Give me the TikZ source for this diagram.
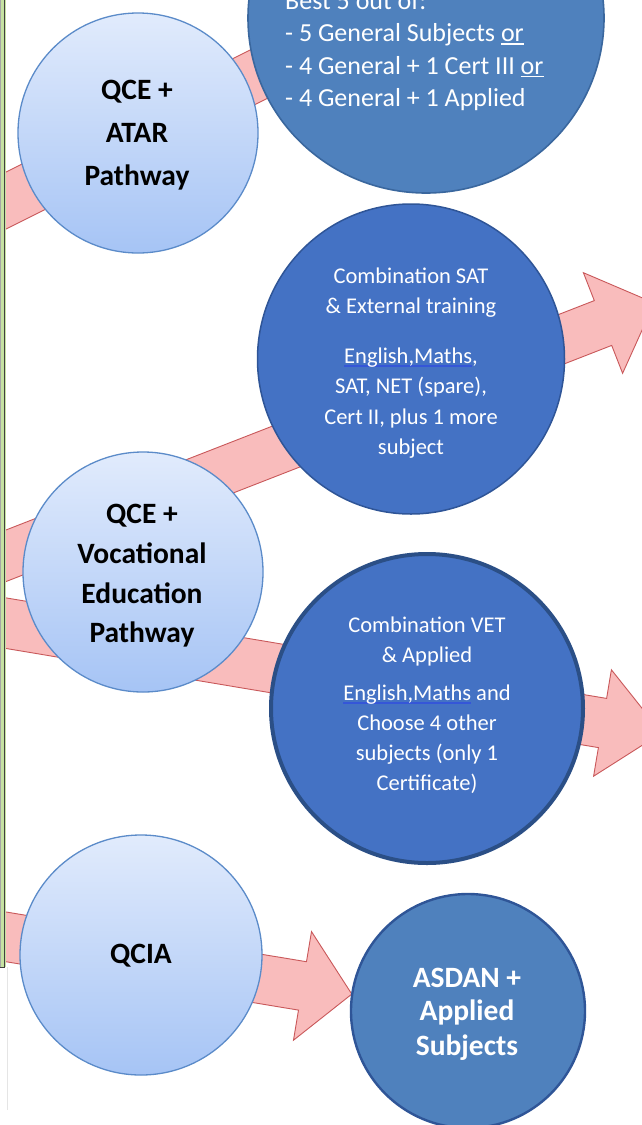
\documentclass[tikz,border=0pt]{standalone}
\usepackage{fontspec}
\setmainfont{Carlito}
\usetikzlibrary{shapes.geometric}
\definecolor{lblueT}{HTML}{E1EBFC}
\definecolor{lblueBt}{HTML}{A6C4F5}
\definecolor{lblueB}{HTML}{5B8BC9}
\definecolor{dblueA}{HTML}{4F81BD}
\definecolor{dblueAB}{HTML}{3A679E}
\definecolor{dblueC}{HTML}{4472C4}
\definecolor{dblueCB}{HTML}{2F5597}
\definecolor{dblueVB}{HTML}{2B4F86}
\definecolor{pinkM}{HTML}{F9BCBC}
\definecolor{pinkB}{HTML}{C9585A}
\definecolor{ulblue}{HTML}{3556D8}
\definecolor{borderg}{HTML}{C6E2A2}
\newlength\ulwd
\newcommand\blueul[1]{\settowidth\ulwd{#1}\rlap{\textcolor{ulblue}{\rule[-3.5pt]{\ulwd}{1.4pt}}}#1}
\newcommand\whul[1]{\settowidth\ulwd{#1}\rlap{\rule[-3pt]{\ulwd}{1.3pt}}#1}
\tikzset{
  lightc/.style={ellipse, draw=lblueB, line width=1.3pt, top color=lblueT, bottom color=lblueBt, inner sep=0pt},
  darkA/.style={ellipse, draw=dblueAB, line width=1.6pt, fill=dblueA, inner sep=0pt},
  darkC/.style={ellipse, draw=dblueCB, line width=1.5pt, fill=dblueC, inner sep=0pt},
  blockarrow/.style={draw=pinkB, line width=0.9pt, fill=pinkM, line join=miter},
  bk/.style={font=\fontsize{29.5pt}{30pt}\selectfont\bfseries, text=black, anchor=base, inner sep=0pt},
  wb/.style={bk, text=white},
  wr/.style={font=\fontsize{22.5pt}{24pt}\selectfont, text=white, anchor=base, inner sep=0pt},
  wl/.style={font=\fontsize{26pt}{28pt}\selectfont, text=white, anchor=base west, inner sep=0pt}
}
\begin{document}
\begin{tikzpicture}[x=1pt,y=-1pt]
\useasboundingbox (0,0) rectangle (641,1125);
\fill[white] (0,0) rectangle (641,1125);
% block arrows (behind circles)
\path[blockarrow] (-31.4,190.7) -- (368.6,-9.3) -- (391.4,36.3) -- (-8.6,236.3) -- cycle;
\path[blockarrow] (-18.7,539.6) -- (594.3,300.6) -- (583.4,272.7) -- (654.3,303) -- (622.6,373.3) -- (611.7,345.4) -- (-1.3,584.4) -- cycle;
\path[blockarrow] (-5.9,595.9) -- (606.6,698.4) -- (611.4,669.8) -- (661.7,732.9) -- (593.6,776.2) -- (598.4,747.6) -- (-14.1,645.1) -- cycle;
\path[blockarrow] (-6,910) -- (306.5,961.7) -- (311.5,931.6) -- (351.8,994.1) -- (293.5,1040.2) -- (298.5,1010.1) -- (-14,958.4) -- cycle;
% left border
\fill[white] (-60,-20) rectangle (6,1145);
\fill[borderg] (0,0) rectangle (6,967);
\draw[black!75, line width=0.9pt] (4,0) -- (4,967) -- (0,967);
\draw[black!35, line width=0.6pt] (0.5,0) -- (0.5,967);
\draw[black!10, line width=0.8pt] (7.5,967) -- (7.5,1110);
% circles
\node[darkA, minimum width=356pt, minimum height=350pt] (best) at (426,18) {};
\node[lightc, minimum width=240pt, minimum height=240pt] (atar) at (138,133) {};
\node[darkC, minimum width=307pt, minimum height=310pt] (sat) at (411,359) {};
\node[lightc, minimum width=240pt, minimum height=240pt] (voc) at (143,572) {};
\node[ellipse, draw=dblueVB, line width=4pt, fill=dblueC, inner sep=0pt, minimum width=312pt, minimum height=309pt] (vet) at (427,708.5) {};
\node[lightc, minimum width=242pt, minimum height=240pt] (qcia) at (141,955) {};
\node[darkA, draw=dblueCB, line width=2.4pt, minimum width=234pt, minimum height=234pt] (asdan) at (468,1011) {};
% texts: best 5
\node[wl] (b1) at (285,9) {Best 5 out of:};
\node[wl] (b2) at (285,41.5) {- 5 General Subjects \whul{or}};
\node[wl] (b3) at (285,74) {- 4 General + 1 Cert III \whul{or}};
\node[wl] (b4) at (285,106.5) {- 4 General + 1 Applied};
% ATAR
\node[bk] (a1) at (137,99) {QCE +};
\node[bk] (a2) at (137,142.5) {ATAR};
\node[bk] (a3) at (137,185) {Pathway};
% SAT
\node[wr] (s1) at (411,283) {Combination SAT};
\node[wr] (s2) at (411,313.5) {\& External training};
\node[wr] (s3) at (411,363) {\blueul{English,Maths},};
\node[wr] (s4) at (411,393.5) {SAT, NET (spare),};
\node[wr] (s5) at (411,424) {Cert II, plus 1 more};
\node[wr] (s6) at (411,454.5) {subject};
% Vocational
\node[bk] (v1) at (142,523) {QCE +};
\node[bk] (v2) at (142,563) {Vocational};
\node[bk] (v3) at (142,603) {Education};
\node[bk] (v4) at (142,642) {Pathway};
% VET
\node[wr] (e1) at (427,632) {Combination VET};
\node[wr] (e2) at (427,662) {\& Applied};
\node[wr] (e3) at (427,700) {\blueul{English,Maths} and};
\node[wr] (e4) at (427,730) {Choose 4 other};
\node[wr] (e5) at (427,760) {subjects (only 1};
\node[wr] (e6) at (427,790) {Certificate)};
% QCIA
\node[bk] (q1) at (141,963) {QCIA};
% ASDAN
\node[wb] (d1) at (467,987) {ASDAN +};
\node[wb] (d2) at (467,1020) {Applied};
\node[wb] (d3) at (467,1055) {Subjects};
\end{tikzpicture}
\end{document}
